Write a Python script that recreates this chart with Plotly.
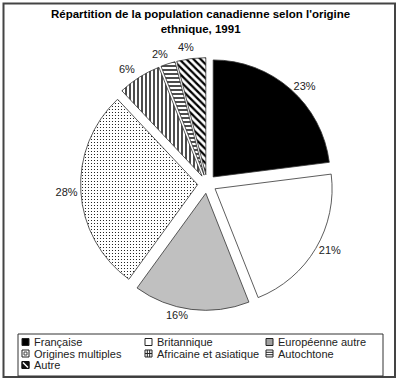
import plotly.graph_objects as go

# Data
categories = ["Française", "Britannique", "Européenne autre", "Origines multiples",
              "Africaine et asiatique", "Autochtone", "Autre"]
values = [23, 21, 16, 28, 6, 2, 4]
title_text = "<b>Répartition de la population canadienne selon l'origine<br>ethnique, 1991</b>"

# Styles
fill_colors = ["#000000", "#ffffff", "#c0c0c0", "#ffffff", "#ffffff", "#ffffff", "#ffffff"]
pattern_shapes = ["", "", "", ".", "|", "-", "\\"]
FONT = "Arial, 'Liberation Sans', sans-serif"
W, H = 400, 380


def px(x):
    return x / W


def py(y):
    return 1 - y / H


# Small slices get their labels as separate annotations (avoids leader lines)
small_label_pos = {4: (127, 69), 5: (160, 54), 6: (186, 47)}
templates = ["" if i in small_label_pos else "%{value}%" for i in range(len(values))]

fig = go.Figure()
cx, cy, R = 207, 184, 126.4
fig.add_trace(go.Pie(
    labels=categories,
    values=values,
    sort=False,
    direction="clockwise",
    rotation=0,
    pull=[0.08] * len(values),
    marker=dict(
        colors=fill_colors,
        line=dict(color="#333333", width=0.8),
        pattern=dict(shape=pattern_shapes, fgcolor="#000000", bgcolor=fill_colors,
                     size=[4, 4, 4, 3, 4, 4, 5], solidity=[0.3, 0.3, 0.3, 0.12, 0.35, 0.35, 0.45]),
    ),
    texttemplate=templates,
    textposition="outside",
    textfont=dict(family=FONT, size=11, color="#222222"),
    showlegend=False,
    hoverinfo="label+percent",
    domain=dict(x=[px(cx - R), px(cx + R)], y=[py(cy + R), py(cy - R)]),
))

shapes = []
annotations = []
# Title
annotations.append(dict(text=title_text, xref="paper", yref="paper",
                        x=0.5, y=py(6), xanchor="center", yanchor="top",
                        showarrow=False, align="center",
                        font=dict(family=FONT, size=11.5, color="#000000")))
for i, (lx, ly) in small_label_pos.items():
    annotations.append(dict(text=f"{values[i]}%", xref="paper", yref="paper",
                            x=px(lx), y=py(ly), xanchor="center", yanchor="middle",
                            showarrow=False,
                            font=dict(family=FONT, size=11, color="#222222")))
# Outer frame
shapes.append(dict(type="rect", xref="paper", yref="paper",
                   x0=px(3.5), x1=px(395), y0=py(377), y1=py(3.5),
                   line=dict(color="#444444", width=2)))
# Legend box
shapes.append(dict(type="rect", xref="paper", yref="paper",
                   x0=px(18), x1=px(383), y0=py(376), y1=py(334),
                   line=dict(color="#333333", width=1)))

# Legend entries (3 columns)
col_x = [22, 145, 266]
row_y = [342, 353.5, 365]
s = 7
for i, name in enumerate(categories):
    c, r = i % 3, i // 3
    x0, yc = col_x[c], row_y[r]
    y0 = yc - s / 2
    sw_fill = {0: "#000000", 2: "#a0a0a0"}.get(i, "#ffffff")
    shapes.append(dict(type="rect", xref="paper", yref="paper",
                       x0=px(x0), x1=px(x0 + s), y0=py(y0 + s), y1=py(y0),
                       fillcolor=sw_fill, line=dict(color="#222222", width=1)))
    if i == 3:
        shapes.append(dict(type="rect", xref="paper", yref="paper",
                           x0=px(x0 + 2), x1=px(x0 + s - 2), y0=py(y0 + s - 2), y1=py(y0 + 2),
                           line=dict(color="#444444", width=1)))
    elif i == 4:
        for dx in (2.3, 4.7):
            shapes.append(dict(type="line", xref="paper", yref="paper",
                               x0=px(x0 + dx), x1=px(x0 + dx), y0=py(y0), y1=py(y0 + s),
                               line=dict(color="#222222", width=1)))
        shapes.append(dict(type="line", xref="paper", yref="paper",
                           x0=px(x0), x1=px(x0 + s), y0=py(y0 + s / 2), y1=py(y0 + s / 2),
                           line=dict(color="#222222", width=1)))
    elif i == 5:
        for dy in (2.3, 4.7):
            shapes.append(dict(type="line", xref="paper", yref="paper",
                               x0=px(x0), x1=px(x0 + s), y0=py(y0 + dy), y1=py(y0 + dy),
                               line=dict(color="#222222", width=1)))
    elif i == 6:
        shapes.append(dict(type="rect", xref="paper", yref="paper",
                           x0=px(x0), x1=px(x0 + s), y0=py(y0 + s), y1=py(y0),
                           fillcolor="#111111", line=dict(color="#111111", width=1)))
        shapes.append(dict(type="line", xref="paper", yref="paper",
                           x0=px(x0 + 1), x1=px(x0 + s - 1), y0=py(y0 + 1), y1=py(y0 + s - 1),
                           line=dict(color="#ffffff", width=1.5)))
    annotations.append(dict(text=name, xref="paper", yref="paper",
                            x=px(x0 + s + 3), y=py(yc), xanchor="left", yanchor="middle",
                            showarrow=False,
                            font=dict(family=FONT, size=11, color="#222222")))

fig.update_layout(
    width=W, height=H,
    margin=dict(l=0, r=0, t=0, b=0),
    paper_bgcolor="white",
    plot_bgcolor="white",
    shapes=shapes,
    annotations=annotations,
)

fig.write_html("out.html")
